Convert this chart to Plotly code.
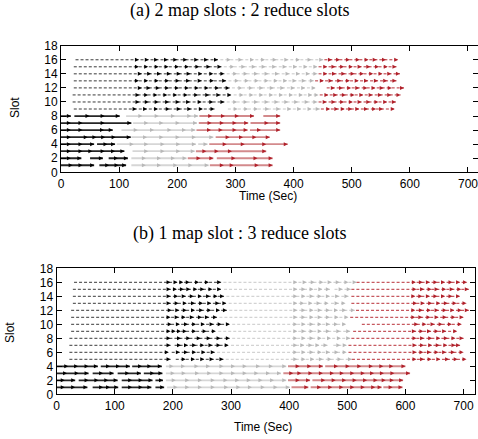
import plotly.graph_objects as go

# ---------------- panel (a): 2 map slots : 2 reduce slots ----------------
# each entry: (slot, [start, head1, head2, ...]) -> chained arrows
A_MAP_BLACK = [
    (8, [0, 17]), (8, [23, 49, 75, 101]),
    (7, [0, 17, 37, 75, 121]),
    (6, [0, 17, 37, 74, 89]),
    (5, [0, 17, 46, 61, 76, 94, 120]),
    (4, [0, 17, 37, 57]), (4, [62, 80, 93]),
    (3, [0, 17, 37, 54, 75, 93, 109]),
    (2, [0, 17, 35]), (2, [50, 72]), (2, [82, 98, 115]),
    (1, [0, 20, 37, 57]), (1, [66, 83, 99, 112]),
]
A_MAP_GRAY = [
    (8, [112, 140, 168, 196, 224, 236]),
    (7, [124, 150, 176, 204, 234]),
    (6, [104, 132, 160, 190, 215, 231]),
    (5, [121, 148, 176, 204, 232, 262]),
    (4, [96, 125, 150, 178, 205, 232]), (4, [236, 252]),
    (3, [123, 150, 178, 205, 230]),
    (2, [121, 146, 172, 196, 216]),
    (1, [121, 146, 172, 200, 226, 254]),
]
A_MAP_RED = [
    (8, [238, 260, 282, 306, 332]), (8, [348, 377]),
    (7, [237, 259, 280, 302, 322]), (7, [326, 357, 377]),
    (6, [233, 258, 278, 302, 321]), (6, [325, 344, 377]),
    (5, [266, 290, 313, 336, 359]),
    (4, [255, 285, 316, 353, 390]),
    (3, [232, 250, 271, 294, 353]),
    (2, [218, 240, 262]), (2, [268, 300, 338, 364]),
    (1, [256, 280, 297, 340, 364]),
]
A_RED_BLACK = [
    (16, [25, 134, 151, 167, 184, 200, 217, 236, 253, 270]),
    (15, [22, 134, 150, 168, 185, 203, 220, 238, 257, 276]),
    (14, [22, 139, 155, 172, 189, 206, 223, 243, 262, 281]),
    (13, [22, 134, 150, 168, 186, 204, 222, 242, 263, 284]),
    (12, [22, 139, 154, 170, 186, 203, 220, 237, 254, 272, 290]),
    (11, [20, 135, 150, 166, 183, 200, 218, 236, 255, 274, 293]),
    (10, [20, 135, 151, 168, 186, 204, 222, 242, 262, 281]),
    (9, [22, 130, 148, 167, 187, 206, 224, 244, 264]),
]
A_RED_GRAY = [
    (16, [274, 292, 312, 332, 351, 371, 391, 411, 431, 451]),
    (15, [280, 298, 317, 335, 352, 370, 388, 406, 424, 441]),
    (14, [285, 303, 321, 339, 357, 375, 393, 411, 428, 441]),
    (13, [288, 306, 323, 340, 357, 373, 389, 405, 421, 435]),
    (12, [294, 312, 330, 348, 366, 384, 402, 420, 438]),
    (11, [297, 314, 331, 348, 365, 382, 399, 416, 432, 443]),
    (10, [285, 303, 321, 339, 357, 374, 391, 408, 426, 441]),
    (9, [287, 304, 322, 339, 358, 377, 396, 413, 431, 445]),
]
A_RED_RED = [
    (16, [453, 466, 480, 497, 514, 529, 543, 559, 580]),
    (15, [443, 458, 472, 487, 502, 517, 532, 547, 562, 577]),
    (14, [443, 458, 473, 489, 505, 521, 537, 553, 568, 583]),
    (13, [437, 452, 467, 482, 497, 512, 528, 545, 561, 577]),
    (12, [457, 471, 485, 499, 513, 527, 541, 555, 569, 590]),
    (11, [445, 460, 475, 490, 505, 520, 536, 552, 568, 584]),
    (10, [443, 457, 472, 487, 502, 517, 532, 546, 561, 576]),
    (9, [447, 463, 477, 488, 501, 513, 528, 542, 554, 574]),
]

# ---------------- panel (b): 1 map slot : 3 reduce slots ----------------
B_MAP_BLACK = [
    (4, [0, 20, 37, 55, 71]), (4, [76, 92, 109, 126]), (4, [130, 147, 163, 181]),
    (3, [0, 18, 38, 55]), (3, [62, 80, 98]), (3, [105, 125, 145]), (3, [150, 168, 182]),
    (2, [0, 14, 32]), (2, [38, 55, 72, 89, 105]), (2, [112, 130, 148, 165]), (2, [170, 183]),
    (1, [0, 14, 32, 53]), (1, [62, 80, 92, 106]), (1, [112, 130, 148, 163]), (1, [170, 185]),
]
B_MAP_GRAY = [
    (4, [188, 201, 221, 244, 264, 287, 307, 327, 350, 372, 395]),
    (3, [188, 203, 222, 245, 266, 287, 307, 327, 347, 367, 386]),
    (2, [188, 205, 228, 250, 272, 294, 314, 334, 354, 374, 395]),
    (1, [190, 208, 228, 250, 272, 295, 316, 336, 358, 380, 401]),
]
B_MAP_RED = [
    (4, [398, 418, 438, 458]), (4, [462, 484, 504, 524, 544, 562, 579, 600]),
    (3, [390, 407, 421, 440, 458, 477, 494, 512, 530, 546, 563, 581, 608]),
    (2, [398, 418, 436]), (2, [440, 462, 480, 498, 516, 534, 552, 566, 580, 596]),
    (1, [404, 433]), (1, [437, 455, 474, 493, 512, 530, 548, 559]), (1, [562, 578, 595]),
]
B_RED_BLACK = [
    (16, [30, 196, 208, 218, 229, 245, 262, 283]),
    (15, [28, 196, 207, 219, 230, 242, 254, 268, 283]),
    (14, [28, 196, 209, 222, 236, 250, 264, 277, 288]),
    (13, [28, 196, 210, 224, 238, 252, 266, 280, 292]),
    (12, [25, 198, 211, 224, 238, 252, 266, 281, 293]),
    (11, [25, 196, 210, 222, 236, 250, 262, 276]),
    (10, [25, 198, 212, 226, 240, 255, 270, 284, 298]),
    (9, [25, 196, 205, 214, 224, 240, 258, 274]),
    (8, [22, 196, 214, 230, 248, 265, 282, 298]),
    (7, [22, 196]), (7, [203, 214, 226, 240, 254, 268, 282, 296]),
    (6, [22, 193]), (6, [198, 212, 226, 240, 256, 272]),
    (5, [22, 196]), (5, [205, 222, 238, 254, 270, 287]),
]
B_RED_GRAY = [
    (16, [287, 414, 430, 444, 459, 473, 487, 502, 516]),
    (15, [288, 414, 428, 442, 457, 470]), (15, [478, 492, 506]),
    (14, [292, 414, 428, 442, 456, 470, 486, 502]),
    (13, [296, 414, 426, 440, 454, 468]), (13, [472, 485, 497]),
    (12, [297, 414, 428, 442, 456, 470, 484, 498, 513]),
    (11, [280, 414, 428, 442, 456, 470, 485, 502]),
    (10, [302, 414, 428, 442, 456, 470, 484, 498]),
    (9, [278, 414, 428, 442, 456, 470, 488, 505]),
    (8, [302, 414, 428, 442, 456, 472, 489, 505]),
    (7, [300, 414, 426, 440, 452, 466]), (7, [476, 488, 499]),
    (6, [276, 414, 428, 442, 456, 470, 485, 499]),
    (5, [291, 414, 428, 443, 458, 473, 490, 508]),
]
B_RED_RED = [
    (16, [516, 618, 630, 642, 655, 668, 681, 694, 706]),
    (15, [507, 619, 632, 645, 657, 670, 683, 696, 709]),
    (14, [507, 617, 629, 642, 655, 668, 681, 694]),
    (13, [507, 620, 633, 646, 660, 673, 688, 705]),
    (12, [515, 617, 630, 644, 657, 671, 684, 697, 709]),
    (11, [505, 617, 629, 643, 657, 671, 686, 700]),
    (10, [525, 622, 636, 650, 664, 680, 697]),
    (9, [510, 618, 631, 644, 657, 670, 689]),
    (8, [507, 619, 632, 646, 660, 673, 686, 700]),
    (7, [502, 619, 632, 646, 659, 672, 686, 694]),
    (6, [502, 619, 631, 644, 657, 670, 685, 700]),
    (5, [508, 619, 632, 645, 660, 675, 690, 705]),
]

X_TICKS = [0, 100, 200, 300, 400, 500, 600, 700]
Y_TICKS = [0, 2, 4, 6, 8, 10, 12, 14, 16, 18]
TITLE_A = "(a) 2 map slots : 2 reduce slots"
TITLE_B = "(b) 1 map slot : 3 reduce slots"

W, H = 478, 439
fig = go.Figure()

STYLES = {
    ("black", "solid"): dict(line="#262626", head="#000000", width=1.8),
    ("gray", "solid"): dict(line="#d6d6d6", head="#b8b8b8", width=1.8),
    ("red", "solid"): dict(line="#d38a8c", head="#b0202a", width=1.9),
    ("black", "dash"): dict(line="#3a3a3a", head="#000000", width=1.0),
    ("gray", "dash"): dict(line="#c8c8c8", head="#b8b8b8", width=1.0),
    ("red", "dash"): dict(line="#b83038", head="#b0202a", width=1.0),
}


def add_chains(chains, color, dash, xa, ya):
    st = STYLES[(color, dash)]
    lx, ly, hx, hy = [], [], [], []
    for slot, ch in chains:
        lx += [ch[0], ch[-1], None]
        ly += [slot, slot, None]
        for t in ch[1:]:
            hx.append(t)
            hy.append(slot)
    fig.add_trace(go.Scatter(
        x=lx, y=ly, mode="lines", xaxis=xa, yaxis=ya, hoverinfo="skip",
        line=dict(color=st["line"], width=st["width"],
                  dash="solid" if dash == "solid" else "3px,2px"),
        showlegend=False))
    fig.add_trace(go.Scatter(
        x=hx, y=hy, mode="markers", xaxis=xa, yaxis=ya, hoverinfo="skip",
        marker=dict(symbol="arrow-right", size=4.0, color=st["head"],
                    line=dict(width=0)),
        showlegend=False))


for xa, ya, groups in [
    ("x", "y", [(A_MAP_GRAY, "gray", "solid"), (A_MAP_RED, "red", "solid"),
                (A_MAP_BLACK, "black", "solid"), (A_RED_GRAY, "gray", "dash"),
                (A_RED_RED, "red", "dash"), (A_RED_BLACK, "black", "dash")]),
    ("x2", "y2", [(B_MAP_GRAY, "gray", "solid"), (B_MAP_RED, "red", "solid"),
                  (B_MAP_BLACK, "black", "solid"), (B_RED_GRAY, "gray", "dash"),
                  (B_RED_RED, "red", "dash"), (B_RED_BLACK, "black", "dash")]),
]:
    for chains, color, dash in groups:
        add_chains(chains, color, dash, xa, ya)

FONT = "Liberation Sans, Arial, sans-serif"
axis_common = dict(
    showline=True, linecolor="#000", linewidth=1, mirror="ticks",
    ticks="inside", ticklen=5, tickcolor="#000", showgrid=False, zeroline=False,
    automargin=False, ticklabeloverflow="allow",
    tickfont=dict(family=FONT, size=12, color="#000"),
)

# panel geometry (pixels)
ax_l, ax_t, ax_b = 61.0, 45.7, 172.3
bx_l, bx_r, bx_t, bx_b = 56.6, 475.2, 268.3, 394.3
scale = (bx_r - bx_l) / 720.0

fig.update_layout(
    width=W, height=H, margin=dict(l=0, r=0, t=0, b=0, pad=0),
    paper_bgcolor="white", plot_bgcolor="white",
    xaxis=dict(domain=[ax_l / W, 1.0], range=[0, (W - ax_l) / scale],
               tickvals=X_TICKS, anchor="y", **axis_common),
    yaxis=dict(domain=[1 - ax_b / H, 1 - ax_t / H], range=[0, 18],
               tickvals=Y_TICKS, anchor="x", **axis_common),
    xaxis2=dict(domain=[bx_l / W, bx_r / W], range=[0, 720],
                tickvals=X_TICKS, anchor="y2", **axis_common),
    yaxis2=dict(domain=[1 - bx_b / H, 1 - bx_t / H], range=[0, 18],
                tickvals=Y_TICKS, anchor="x2", **axis_common),
)

SER = "Liberation Serif, Times New Roman, serif"


def label(text, x, y, family, size, angle=0):
    return dict(text=text, x=x / W, y=1 - y / H, xref="paper", yref="paper",
                xanchor="center", yanchor="middle", showarrow=False,
                textangle=angle, font=dict(family=family, size=size, color="#000"))


ann = [
    label(TITLE_A, 239, 11, SER, 18),
    label(TITLE_B, 239, 233, SER, 18),
    label("Slot", 15, 108, FONT, 12, -90),
    label("Slot", 10, 333, FONT, 12, -90),
    label("Time (Sec)", 268, 196, FONT, 12),
    label("Time (Sec)", 263, 427, FONT, 12),
]
fig.update_layout(annotations=ann)

fig.write_html("out.html", config={"displayModeBar": False},
               post_script="document.body.style.margin='0';")
